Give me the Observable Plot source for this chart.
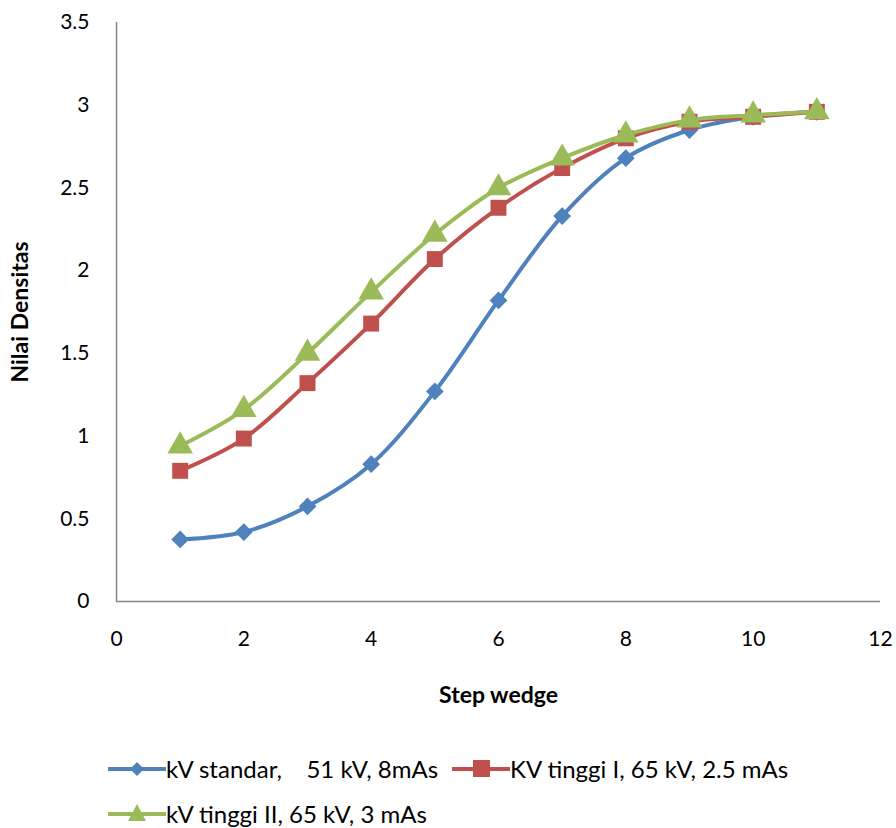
<!DOCTYPE html>
<html><head><meta charset="utf-8">
<script src="https://cdn.jsdelivr.net/npm/d3@7"></script>
<script src="https://cdn.jsdelivr.net/npm/@observablehq/plot@0.6"></script>
<style>
body{margin:0;background:#fff;font-family:Lato,"Open Sans",sans-serif;}
#legend{position:relative;width:896px;height:108px;font-size:24px;color:#000;}
.item{position:absolute;display:flex;align-items:center;white-space:pre;}
.item svg{margin-right:0px;}
</style></head><body>
<div id="chart"></div>
<div id="legend"></div>
<script>
const steps = [1,2,3,4,5,6,7,8,9,10,11];
const seriesNames = ["kV standar,    51 kV, 8mAs", "KV tinggi I, 65 kV, 2.5 mAs", "kV tinggi II, 65 kV, 3 mAs"];
const standar = [0.375,0.42,0.575,0.83,1.27,1.82,2.33,2.68,2.85,2.93,2.96];
const tinggiI = [0.79,0.985,1.32,1.68,2.07,2.38,2.62,2.80,2.90,2.93,2.96];
const tinggiII = [0.94,1.16,1.50,1.87,2.22,2.50,2.68,2.82,2.91,2.94,2.96];
const xTicks = [0,2,4,6,8,10,12];
const yTicks = [0,0.5,1,1.5,2,2.5,3,3.5];
const colors = ["#4F81BD","#C0504D","#9BBB59"];
const symbols = ["diamond2","square","triangle"];
const radii = [8,9,9.5];

const values = [standar, tinggiI, tinggiII];
const series = values.map((v,i)=>steps.map((s,j)=>({step:s, value:v[j], name:seriesNames[i]})));

const marks = [];
series.forEach((d,i)=>{
  marks.push(Plot.line(d,{x:"step",y:"value",stroke:colors[i],strokeWidth:4,curve:"catmull-rom"}));
  marks.push(Plot.dot(d,{x:"step",y:"value",fill:colors[i],symbol:()=>symbols[i],r:radii[i],stroke:"none"}));
});

const chart = Plot.plot({
  width:896, height:720,
  marginLeft:116, marginRight:16, marginTop:22, marginBottom:119,
  style:{fontFamily:"Lato, 'Open Sans', sans-serif", fontSize:"21px", color:"#000", background:"#fff"},
  symbol:{type:"identity"},
  x:{domain:[0,12]},
  y:{domain:[0,3.5]},
  marks:[
    Plot.axisX({ticks:xTicks, tickSize:0, tickPadding:30, label:null, fontSize:21}),
    Plot.axisY({ticks:yTicks, tickSize:0, tickPadding:27, label:null, fontSize:21, tickFormat:d=>String(d)}),
    Plot.ruleY([0],{stroke:"#868686",strokeWidth:1.5}),
    Plot.ruleX([0],{stroke:"#868686",strokeWidth:1.5}),
    ...marks,
    Plot.text(["Step wedge"],{frameAnchor:"bottom",textAnchor:"middle",lineAnchor:"middle",dy:94,fontWeight:"bold",fontSize:23,text:d=>d}),
    Plot.text(["Nilai Densitas"],{frameAnchor:"left",textAnchor:"middle",lineAnchor:"middle",dx:-96,rotate:-90,fontWeight:"bold",fontSize:23,text:d=>d})
  ]
});
document.getElementById("chart").appendChild(chart);

// Legend
const leg = document.getElementById("legend");
const pos = [[108,49],[452,49],[108,94]];
seriesNames.forEach((n,i)=>{
  const div = document.createElement("div");
  div.className="item";
  div.style.left=pos[i][0]+"px"; div.style.top=(pos[i][1]-15)+"px";
  const sym = i===0 ? '<path d="M29,4 L36,11 L29,18 L22,11Z"/>' : i===1 ? '<rect x="21" y="2" width="17" height="17"/>' : '<path d="M29,1 L38,18 L20,18Z"/>';
  div.innerHTML = `<svg width="58" height="22"><g fill="${colors[i]}"><rect x="0" y="9" width="58" height="4"/>${sym}</g></svg><span>${n}</span>`;
  leg.appendChild(div);
});
</script>
</body></html>
